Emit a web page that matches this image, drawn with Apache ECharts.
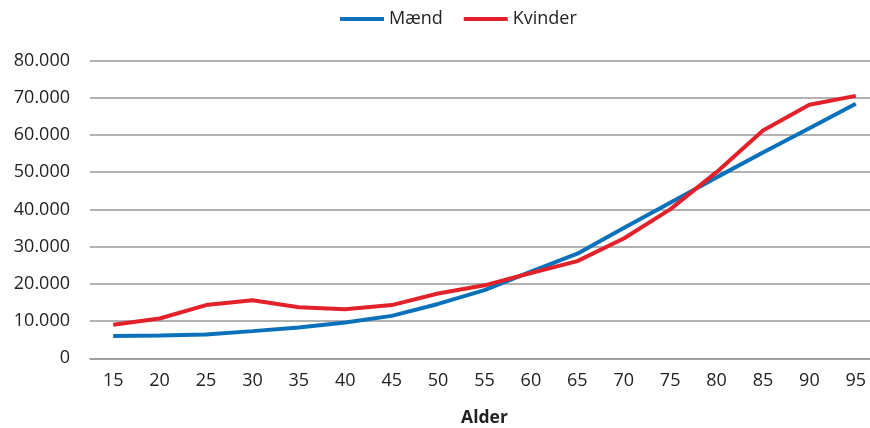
<!DOCTYPE html>
<html><head><meta charset="utf-8">
<script src="https://cdn.jsdelivr.net/npm/echarts@6/dist/echarts.min.js"></script>
<style>html,body{margin:0;padding:0;background:#fff}#c{width:870px;height:428px}</style>
</head><body><div id="c"></div>
<script>
const ages = ['15','20','25','30','35','40','45','50','55','60','65','70','75','80','85','90','95'];
const maend = [6000,6100,6400,7300,8300,9600,11400,14600,18300,23300,28100,35000,41800,48600,55300,61800,68400];
const kvinder = [9000,10700,14300,15600,13700,13200,14300,17400,19600,22900,26100,32200,40000,50000,61200,68100,70500];
const yTicks = [0,10000,20000,30000,40000,50000,60000,70000,80000];

const fmt = v => v === 0 ? '0' : String(v).replace(/\B(?=(\d{3})+(?!\d))/g, '.');
const font = '"Open Sans", "Noto Sans", sans-serif';
const chart = echarts.init(document.getElementById('c'), null, {renderer:'canvas'});
chart.setOption({
  animation:false,
  textStyle:{fontFamily:font},
  legend:{top:5, left:335, icon:'rect', itemWidth:44, itemHeight:4, itemGap:21,
    textStyle:{fontSize:18, color:'#222', fontFamily:font},
    data:['Mænd','Kvinder']},
  grid:{left:90, width:789, top:60.5, bottom:69.7, containLabel:false, outerBoundsMode:'none'},
  xAxis:{type:'category', data:ages, boundaryGap:true,
    name:'Alder', nameLocation:'middle', nameGap:51,
    nameTextStyle:{fontSize:17.5, fontWeight:'bold', color:'#222', fontFamily:font},
    axisLine:{lineStyle:{color:'#999', width:1.5}},
    axisTick:{length:6, lineStyle:{color:'#999', width:1.5}},
    axisLabel:{fontSize:18, color:'#222', margin:14, fontFamily:font}},
  yAxis:{type:'value', min:yTicks[0], max:yTicks[yTicks.length-1], interval:10000,
    axisLine:{show:false}, axisTick:{show:false},
    splitLine:{lineStyle:{color:'#999', width:1.5}},
    axisLabel:{fontSize:18, color:'#222', margin:20, formatter:fmt, fontFamily:font}},
  series:[
    {name:'Mænd', type:'line', data:maend, showSymbol:false, symbol:'none',
     lineStyle:{width:4, color:'#0A71BA'}, itemStyle:{color:'#0A71BA'}},
    {name:'Kvinder', type:'line', data:kvinder, showSymbol:false, symbol:'none',
     lineStyle:{width:4, color:'#E3212B'}, itemStyle:{color:'#E3212B'}}
  ]
});
</script></body></html>
